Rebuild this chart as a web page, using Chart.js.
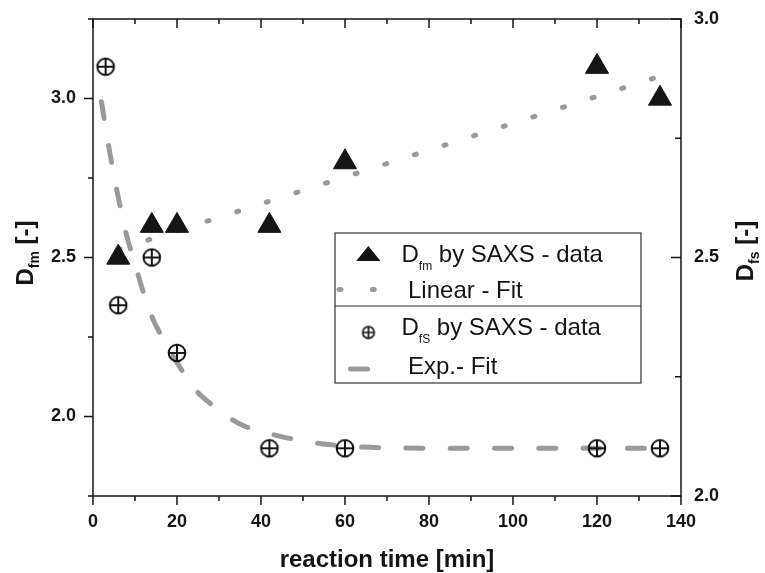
<!DOCTYPE html>
<html>
<head>
<meta charset="utf-8">
<script src="https://cdn.jsdelivr.net/npm/chart.js"></script>
<style>
  html, body { margin: 0; padding: 0; background: #fff; }
</style>
</head>
<body>
<canvas id="chartFrac" width="765" height="573"></canvas>
<script>
// reaction time [min] vs. fractal dimension
const timeFm = [6, 14, 20, 42, 60, 120, 135];
const dfmSaxs = [2.5, 2.6, 2.6, 2.6, 2.8, 3.1, 3.0];

const timeFs = [3, 6, 14, 20, 42, 60, 120, 135];
const dfsSaxs = [3.1, 2.35, 2.5, 2.2, 1.9, 1.9, 1.9, 1.9];

// linear fit (end points of the dotted line)
const linTime = [6, 135];
const linFit = [2.525, 3.07];

// exp. fit
const expTime = [2, 4, 6, 8, 10, 12, 14, 16, 20, 24, 28, 32, 36, 42, 48, 56, 68, 90, 135];
const expFit = [2.99, 2.83, 2.69, 2.57, 2.48, 2.39, 2.315, 2.26, 2.17, 2.09, 2.04, 2.0, 1.97, 1.946, 1.928, 1.912, 1.902, 1.9, 1.9];

// labelled ticks
const xLabels = [0, 20, 40, 60, 80, 100, 120, 140];
const yLabels = [2.0, 2.5, 3.0];
const y1Labels = [2.0, 2.5, 3.0];

const FONT = '"Liberation Sans", Arial, Helvetica, sans-serif';
const INK = '#151515';
const FIT = '#9a9a9a';

function pts(xs, ys) {
  return xs.map((x, i) => ({ x: x, y: ys[i] }));
}

function isLabel(list, v) {
  return list.some(l => Math.abs(l - v) < 1e-6);
}

// circle with a plus inside, used as point style
function crossCircle(r, lw, size) {
  const c = document.createElement('canvas');
  c.width = size; c.height = size;
  const g = c.getContext('2d');
  const m = size / 2;
  g.strokeStyle = INK;
  g.lineWidth = lw;
  g.beginPath();
  g.arc(m, m, r, 0, Math.PI * 2);
  g.stroke();
  g.beginPath();
  g.moveTo(m - r, m); g.lineTo(m + r, m);
  g.moveTo(m, m - r); g.lineTo(m, m + r);
  g.stroke();
  return c;
}

const plusBig = crossCircle(8.3, 2, 22);
const plusSmall = crossCircle(5.8, 1.7, 16);

// text with a subscript part
function subText(ctx, x, y, rot, parts, align) {
  ctx.save();
  ctx.translate(x, y);
  ctx.rotate(rot);
  ctx.textBaseline = 'alphabetic';
  ctx.textAlign = 'left';
  let total = 0;
  parts.forEach(p => { ctx.font = p.font; total += ctx.measureText(p.text).width; });
  let cx = align === 'center' ? -total / 2 : 0;
  parts.forEach(p => {
    ctx.font = p.font;
    ctx.fillText(p.text, cx, p.dy || 0);
    cx += ctx.measureText(p.text).width;
  });
  ctx.restore();
}

// no extra room for half labels, the frame sits where the figure has it
function fixWidth(w) {
  return s => {
    s.width = w;
    s.paddingTop = 0;
    s.paddingBottom = 0;
  };
}

const frame = {
  id: 'frame',
  beforeDatasetsDraw(chart) {
    const ctx = chart.ctx;
    const a = chart.chartArea;
    const sx = chart.scales.x, sy = chart.scales.y, sy1 = chart.scales.y1;
    ctx.save();
    ctx.strokeStyle = INK;
    ctx.lineWidth = 1.5;
    ctx.strokeRect(a.left, a.top, a.right - a.left, a.bottom - a.top);
    ctx.beginPath();
    sx.ticks.forEach(t => {
      const px = sx.getPixelForValue(t.value);
      const len = t.value % 20 === 0 ? 9 : 5;
      ctx.moveTo(px, a.bottom); ctx.lineTo(px, a.bottom + len);
      ctx.moveTo(px, a.top); ctx.lineTo(px, a.top + len);
    });
    sy.ticks.forEach(t => {
      const py = sy.getPixelForValue(t.value);
      const len = isLabel(yLabels, t.value) ? 9 : 5;
      ctx.moveTo(a.left - len, py); ctx.lineTo(a.left, py);
    });
    sy1.ticks.forEach(t => {
      const py = sy1.getPixelForValue(t.value);
      const len = isLabel(y1Labels, t.value) ? 10 : 6;
      ctx.moveTo(a.right - len, py); ctx.lineTo(a.right, py);
    });
    ctx.stroke();
    ctx.restore();
  },
  afterDraw(chart) {
    const ctx = chart.ctx;
    const a = chart.chartArea;
    ctx.save();
    ctx.fillStyle = INK;
    const big = 'bold 24px ' + FONT;
    const small = 'bold 14px ' + FONT;
    // axis titles
    subText(ctx, (a.left + a.right) / 2, 567, 0, [{ text: 'reaction time [min]', font: big }], 'center');
    subText(ctx, 33, 253, -Math.PI / 2, [
      { text: 'D', font: big },
      { text: 'fm', font: small, dy: 6 },
      { text: ' [-]', font: big }
    ], 'center');
    subText(ctx, 753, 251, -Math.PI / 2, [
      { text: 'D', font: big },
      { text: 'fs', font: small, dy: 6 },
      { text: ' [-]', font: big }
    ], 'center');

    // legend box
    const L = 335, R = 641, T = 233, B = 383, MID = 306;
    ctx.fillStyle = '#fff';
    ctx.fillRect(L, T, R - L, B - T);
    ctx.strokeStyle = '#333';
    ctx.lineWidth = 1.2;
    ctx.strokeRect(L, T, R - L, B - T);
    ctx.beginPath();
    ctx.moveTo(L, MID); ctx.lineTo(R, MID);
    ctx.stroke();

    // symbols
    ctx.fillStyle = INK;
    ctx.beginPath();
    ctx.moveTo(368.3, 246);
    ctx.lineTo(380.5, 261);
    ctx.lineTo(356.1, 261);
    ctx.closePath();
    ctx.fill();

    ctx.strokeStyle = FIT;
    ctx.lineWidth = 5;
    ctx.lineCap = 'round';
    ctx.setLineDash([2, 31.3]);
    ctx.beginPath();
    ctx.moveTo(339, 289.5); ctx.lineTo(377, 289.5);
    ctx.stroke();
    ctx.setLineDash([]);
    ctx.beginPath();
    ctx.moveTo(350.5, 369); ctx.lineTo(367.5, 369);
    ctx.stroke();

    ctx.drawImage(plusSmall, 368.5 - 8, 332.5 - 8);

    // legend text
    ctx.fillStyle = INK;
    const reg = '24px ' + FONT;
    const sub = '12px ' + FONT;
    subText(ctx, 401.5, 262, 0, [
      { text: 'D', font: reg },
      { text: 'fm', font: sub, dy: 8 },
      { text: ' by SAXS - data', font: reg }
    ], 'left');
    subText(ctx, 408, 297.5, 0, [{ text: 'Linear - Fit', font: reg }], 'left');
    subText(ctx, 401.5, 335, 0, [
      { text: 'D', font: reg },
      { text: 'fS', font: sub, dy: 8 },
      { text: ' by SAXS - data', font: reg }
    ], 'left');
    subText(ctx, 408, 373.5, 0, [{ text: 'Exp.- Fit', font: reg }], 'left');
    ctx.restore();
  }
};

const tickFont = { family: FONT, size: 18, weight: 'bold' };

new Chart('chartFrac', {
  type: 'line',
  data: {
    datasets: [
      {
        label: 'Dfm by SAXS - data',
        data: pts(timeFm, dfmSaxs),
        showLine: false,
        pointStyle: 'triangle',
        pointRadius: 13.3,
        pointBackgroundColor: INK,
        pointBorderColor: INK,
        pointBorderWidth: 1,
        yAxisID: 'y'
      },
      {
        label: 'DfS by SAXS - data',
        data: pts(timeFs, dfsSaxs),
        showLine: false,
        pointStyle: plusBig,
        pointRadius: 10,
        yAxisID: 'y'
      },
      {
        label: 'Linear - Fit',
        data: pts(linTime, linFit),
        borderColor: FIT,
        borderWidth: 5,
        borderDash: [2, 29.1],
        borderCapStyle: 'round',
        pointRadius: 0,
        fill: false,
        yAxisID: 'y'
      },
      {
        label: 'Exp.- Fit',
        data: pts(expTime, expFit),
        borderColor: FIT,
        borderWidth: 5,
        borderDash: [17, 27.3],
        borderCapStyle: 'round',
        cubicInterpolationMode: 'monotone',
        pointRadius: 0,
        fill: false,
        yAxisID: 'y'
      }
    ]
  },
  options: {
    responsive: false,
    animation: false,
    devicePixelRatio: 1,
    layout: { padding: { top: 19, left: 0, right: 0, bottom: 0 } },
    plugins: {
      legend: { display: false },
      tooltip: { enabled: false }
    },
    scales: {
      x: {
        type: 'linear',
        position: 'bottom',
        min: 0,
        max: 140,
        grid: { display: false, drawTicks: false },
        border: { display: false },
        ticks: {
          stepSize: 10,
          autoSkip: false,
          maxRotation: 0,
          padding: 15,
          color: INK,
          font: tickFont,
          callback: v => (isLabel(xLabels, v) ? String(v) : '')
        },
        afterFit: s => { s.height = 77; }
      },
      y: {
        position: 'left',
        min: 1.75,
        max: 3.25,
        grid: { display: false, drawTicks: false },
        border: { display: false },
        ticks: {
          stepSize: 0.25,
          autoSkip: false,
          padding: 17,
          color: INK,
          font: tickFont,
          callback: v => (isLabel(yLabels, v) ? v.toFixed(1) : '')
        },
        afterFit: fixWidth(93)
      },
      y1: {
        position: 'right',
        min: 2.0,
        max: 3.0,
        grid: { display: false, drawTicks: false },
        border: { display: false },
        ticks: {
          stepSize: 0.25,
          autoSkip: false,
          padding: 13,
          color: INK,
          font: tickFont,
          callback: v => (isLabel(y1Labels, v) ? v.toFixed(1) : '')
        },
        afterFit: fixWidth(84)
      }
    }
  },
  plugins: [frame]
});
</script>
</body>
</html>
